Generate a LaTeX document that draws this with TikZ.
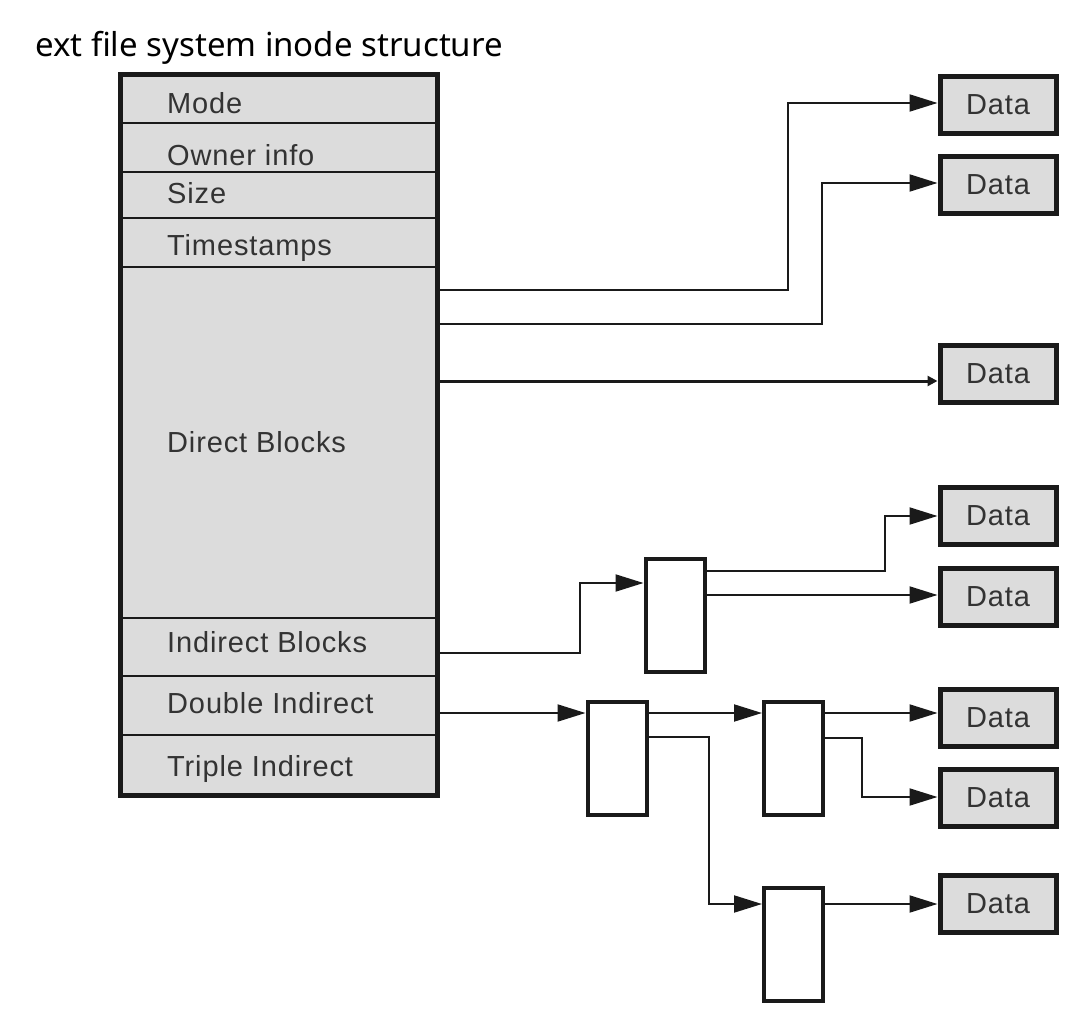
\documentclass[tikz,border=0pt]{standalone}
\usepackage{fontspec}
\setmainfont{Noto Sans}
\newfontfamily\labelfont[LetterSpace=3]{Liberation Sans}
\usetikzlibrary{arrows.meta,calc}
\definecolor{boxgray}{HTML}{DCDCDC}
\definecolor{txtgray}{HTML}{333333}
\definecolor{ink}{HTML}{1A1A1A}
\tikzset{
  rowbox/.style={draw=ink, line width=2.5pt, fill=boxgray, minimum width=317pt, inner sep=0pt, outer sep=0pt},
  rowlabel/.style={anchor=base west, inner sep=0pt, text=txtgray, font=\labelfont\fontsize{29}{32}\selectfont},
  databox/.style={draw=ink, line width=5pt, fill=boxgray, minimum width=116pt, minimum height=57pt, inner sep=0pt,
    text=txtgray, font=\labelfont\fontsize{29}{32}\selectfont},
  blockbox/.style={draw=ink, line width=4pt, fill=white, minimum width=59pt, minimum height=113pt, inner sep=0pt},
  conn/.style={draw=ink, line width=2pt, -{Triangle[length=28pt,width=17pt]}},
  thinconn/.style={draw=ink, line width=3pt, -{Triangle[length=10pt,width=10pt]}}
}
\begin{document}
\begin{tikzpicture}[x=1pt,y=-1pt]
\useasboundingbox (0,0) rectangle (1088,1030);
% title
\node[anchor=base west, inner sep=0pt, font=\fontsize{33}{38}\selectfont] (title) at (35,57) {ext file system inode structure};
% inode rows
\node[rowbox, minimum height=48pt] (mode) at (278.5,99) {};
\node[rowbox, minimum height=49pt] (owner) at (278.5,147.5) {};
\node[rowbox, minimum height=46pt] (size) at (278.5,195) {};
\node[rowbox, minimum height=49pt] (ts) at (278.5,242.5) {};
\node[rowbox, minimum height=351pt] (direct) at (278.5,442.5) {};
\node[rowbox, minimum height=58pt] (indirect) at (278.5,647) {};
\node[rowbox, minimum height=59pt] (double) at (278.5,705.5) {};
\node[rowbox, minimum height=60pt] (triple) at (278.5,765) {};
\draw[ink, line width=5pt] (mode.north west) rectangle (triple.south east);
% labels
\node[rowlabel] (lmode) at (167,114) {Mode};
\node[rowlabel] (lowner) at (167,166) {Owner info};
\node[rowlabel] (lsize) at (167,204) {Size};
\node[rowlabel] (lts) at (167,255) {Timestamps};
\node[rowlabel] (ldirect) at (167,452) {Direct Blocks};
\node[rowlabel] (lindirect) at (167,652) {Indirect Blocks};
\node[rowlabel] (ldouble) at (167,713) {Double Indirect};
\node[rowlabel] (ltriple) at (167,776) {Triple Indirect};
% data boxes
\node[databox] (d1) at (998,105) {Data};
\node[databox] (d2) at (998,185) {Data};
\node[databox] (d3) at (998,374) {Data};
\node[databox] (d4) at (998,516) {Data};
\node[databox] (d5) at (998,596.5) {Data};
\node[databox] (d6) at (998,717.5) {Data};
\node[databox] (d7) at (998,798) {Data};
\node[databox] (d8) at (998,904) {Data};
% pointer blocks
\node[blockbox] (b1) at (675,615) {};
\node[blockbox] (b2) at (617,758.5) {};
\node[blockbox] (b3) at (793.5,758.5) {};
\node[blockbox] (b4) at (793.5,944.5) {};
% connectors
\draw[conn] (direct.east |- 0,290) -| (788,103) -- (d1.west |- 0,103);
\draw[conn] (direct.east |- 0,324) -| (822,183) -- (d2.west |- 0,183);
\draw[thinconn] (direct.east |- 0,381) -- (d3.west |- 0,381);
\draw[conn] (indirect.east |- 0,653) -| (580,583) -- (b1.west |- 0,583);
\draw[conn] (b1.east |- 0,571) -| (885,516) -- (d4.west |- 0,516);
\draw[conn] (b1.east |- 0,595) -- (d5.west |- 0,595);
\draw[conn] (double.east |- 0,713) -- (b2.west |- 0,713);
\draw[conn] (b2.east |- 0,713) -- (b3.west |- 0,713);
\draw[conn] (b2.east |- 0,737) -| (709,904) -- (b4.west |- 0,904);
\draw[conn] (b3.east |- 0,713) -- (d6.west |- 0,713);
\draw[conn] (b3.east |- 0,738) -| (862,797) -- (d7.west |- 0,797);
\draw[conn] (b4.east |- 0,904) -- (d8.west |- 0,904);
\end{tikzpicture}
\end{document}
